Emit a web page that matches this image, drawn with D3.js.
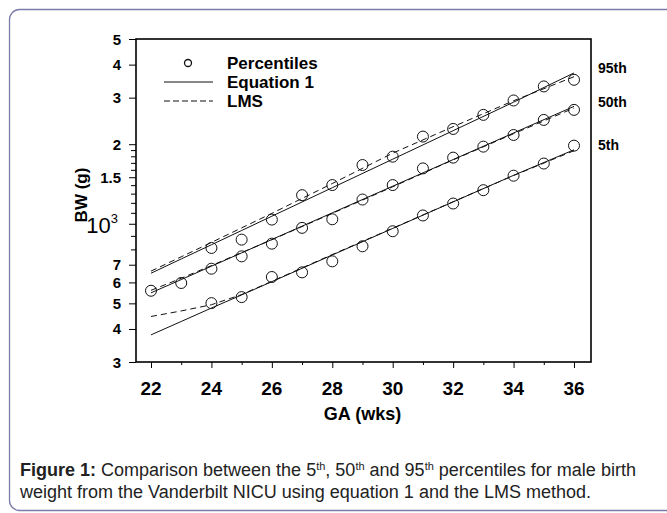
<!DOCTYPE html>
<html>
<head>
<meta charset="utf-8">
<script src="https://cdn.jsdelivr.net/npm/d3@7"></script>
<style>
    body { margin: 0; background: #fff; }
    svg text { font-family: "Liberation Sans", Arial, sans-serif; }
</style>
</head>
<body>
<div id="graphe"></div>
<script>
// percentiles (g), null = no circle drawn
var weeks = [22, 23, 24, 25, 26, 27, 28, 29, 30, 31, 32, 33, 34, 35, 36];
var p5 = [null, null, 501, 528, 629, 655, 721, 822, 937, 1075, 1193, 1340, 1520, 1690, 1975];
var p50 = [558, 597, 676, 753, 841, 965, 1040, 1235, 1401, 1620, 1779, 1958, 2167, 2471, 2697];
var p95 = [null, null, 810, 871, 1037, 1283, 1401, 1668, 1794, 2137, 2284, 2582, 2927, 3308, 3505];

// fitted curves (equation 1 = solid, LMS = dashed)
var lineWeeks = [22, 23, 24, 25, 26, 28, 30, 32, 34, 36];
var eq95 = [650, 736, 833, 943, 1068, 1369, 1755, 2250, 2884, 3720];
var lms95 = [662, 750, 850, 965, 1095, 1420, 1850, 2330, 2920, 3600];
var eq50 = [548, 615, 691, 776, 872, 1100, 1387, 1749, 2205, 2780];
var lms50 = [560, 622, 695, 778, 870, 1095, 1380, 1745, 2190, 2740];
var eq5 = [380, 427, 480, 538, 604, 762, 960, 1210, 1525, 1905];
var lms5 = [446, 468, 494, 540, 606, 765, 962, 1212, 1522, 1890];

var yMajor = [300, 400, 500, 600, 700, 1000, 1500, 2000, 3000, 4000, 5000];
var yLabels = ["3", "4", "5", "6", "7", "10", "1.5", "2", "3", "4", "5"];
var yMinor = [800, 900, 1100, 1200, 1300, 1400, 1600, 1700, 1800, 1900];
var xLabels = [22, 24, 26, 28, 30, 32, 34, 36];
var rightLabels = ["95th", "50th", "5th"];

var W = 667, H = 513;
var plot = { left: 136, right: 591, top: 39, bottom: 362 };

var svg = d3.select("#graphe")
    .append("svg")
    .attr("width", W)
    .attr("height", H);

// card border
svg.append("rect")
    .attr("x", 9.5).attr("y", 9.5)
    .attr("width", 720).attr("height", 501)
    .attr("rx", 10)
    .attr("fill", "#fff")
    .attr("stroke", "#7d7bab")
    .attr("stroke-width", 1.3);

var x = d3.scaleLinear().domain([22, 36]).range([151, 574]);
var y = d3.scaleLog().domain([300, 5000]).range([plot.bottom, plot.top]);

// frame
svg.append("rect")
    .attr("x", plot.left).attr("y", plot.top)
    .attr("width", plot.right - plot.left)
    .attr("height", plot.bottom - plot.top)
    .attr("fill", "none")
    .attr("stroke", "#000")
    .attr("stroke-width", 1.6);

// y axis ticks
svg.append("g")
    .attr("transform", "translate(" + plot.left + ",0)")
    .call(d3.axisLeft(y).tickValues(yMajor).tickSize(7).tickFormat(""))
    .call(function (g) { g.select(".domain").remove(); });

svg.append("g")
    .attr("transform", "translate(" + plot.left + ",0)")
    .call(d3.axisLeft(y).tickValues(yMinor).tickSize(5).tickFormat(""))
    .call(function (g) { g.select(".domain").remove(); });

svg.selectAll("ylab")
    .data(yMajor)
    .enter()
    .append("text")
    .attr("x", 121)
    .attr("y", function (d) { return y(d) + 5.5; })
    .attr("text-anchor", "end")
    .style("font-size", "15px")
    .style("font-weight", "bold")
    .each(function (d, i) {
        let t = d3.select(this);
        if (d == 1000) {
            t.style("font-weight", "normal").style("font-size", "22px").attr("y", y(d) + 9).attr("x", 118);
            t.append("tspan").text("10");
            t.append("tspan").attr("dy", -10).style("font-size", "13px").text("3");
        } else {
            t.text(yLabels[i]);
        }
    });

// x axis ticks: every week, labels every 2
svg.append("g")
    .attr("transform", "translate(0," + plot.bottom + ")")
    .call(d3.axisBottom(x).tickValues(weeks).tickSizeInner(0).tickSizeOuter(0).tickFormat(""))
    .call(function (g) { g.select(".domain").remove(); })
    .selectAll("line")
    .attr("y2", function (d) { return d % 2 == 0 ? 6 : 3; });

svg.selectAll("xlab")
    .data(xLabels)
    .enter()
    .append("text")
    .attr("x", function (d) { return x(d); })
    .attr("y", 395)
    .attr("text-anchor", "middle")
    .style("font-size", "19px")
    .style("font-weight", "bold")
    .text(function (d) { return d; });

// axis titles
svg.append("text")
    .attr("x", x(29))
    .attr("y", 420)
    .attr("text-anchor", "middle")
    .style("font-size", "18px")
    .style("font-weight", "bold")
    .text("GA (wks)");

svg.append("text")
    .attr("transform", "translate(87,195) rotate(-90)")
    .attr("text-anchor", "middle")
    .style("font-size", "17px")
    .style("font-weight", "bold")
    .text("BW (g)");

// curves
var line = d3.line()
    .x(function (d, i) { return x(lineWeeks[i]); })
    .y(function (d) { return y(d); });

var curves = [
    { v: eq95, dash: null }, { v: eq50, dash: null }, { v: eq5, dash: null },
    { v: lms95, dash: "6,4" }, { v: lms50, dash: "6,4" }, { v: lms5, dash: "6,4" }
];
svg.selectAll("curves")
    .data(curves)
    .enter()
    .append("path")
    .attr("d", function (d) { return line(d.v); })
    .attr("fill", "none")
    .attr("stroke", "#111")
    .attr("stroke-width", 1)
    .attr("stroke-dasharray", function (d) { return d.dash; });

// percentile circles
[p5, p50, p95].forEach(function (serie) {
    svg.append("g")
        .selectAll("circle")
        .data(serie.map(function (v, i) { return { w: weeks[i], v: v }; })
            .filter(function (d) { return d.v != null; }))
        .enter()
        .append("circle")
        .attr("cx", function (d) { return x(d.w); })
        .attr("cy", function (d) { return y(d.v); })
        .attr("r", 5.5)
        .attr("fill", "none")
        .attr("stroke", "#111")
        .attr("stroke-width", 1);
});

// labels on the right
svg.selectAll("rlab")
    .data(rightLabels)
    .enter()
    .append("text")
    .attr("x", 598)
    .attr("y", function (d, i) { return [73, 107, 150][i]; })
    .style("font-size", "14px")
    .style("font-weight", "bold")
    .text(function (d) { return d; });

// legend
var leg = svg.append("g");
leg.append("circle").attr("cx", 188).attr("cy", 63).attr("r", 3.5)
    .attr("fill", "none").attr("stroke", "#111").attr("stroke-width", 1.3);
leg.append("line").attr("x1", 164).attr("x2", 213).attr("y1", 82).attr("y2", 82)
    .attr("stroke", "#111").attr("stroke-width", 1.2);
leg.append("line").attr("x1", 164).attr("x2", 213).attr("y1", 101).attr("y2", 101)
    .attr("stroke", "#111").attr("stroke-width", 1.2).attr("stroke-dasharray", "6,3");
["Percentiles", "Equation 1", "LMS"].forEach(function (s, i) {
    leg.append("text")
        .attr("x", 227)
        .attr("y", 69 + i * 19)
        .style("font-size", "17px")
        .style("font-weight", "bold")
        .text(s);
});

// caption
var cap1 = svg.append("text").attr("x", 20).attr("y", 476)
    .style("font-size", "18px").attr("fill", "#222");
cap1.append("tspan").style("font-weight", "bold").text("Figure 1:");
cap1.append("tspan").text(" Comparison between the 5");
cap1.append("tspan").attr("dy", -6).style("font-size", "11px").text("th");
cap1.append("tspan").attr("dy", 6).text(", 50");
cap1.append("tspan").attr("dy", -6).style("font-size", "11px").text("th");
cap1.append("tspan").attr("dy", 6).text(" and 95");
cap1.append("tspan").attr("dy", -6).style("font-size", "11px").text("th");
cap1.append("tspan").attr("dy", 6).text(" percentiles for male birth");

svg.append("text").attr("x", 20).attr("y", 498)
    .style("font-size", "18px").attr("fill", "#222")
    .text("weight from the Vanderbilt NICU using equation 1 and the LMS method.");
</script>
</body>
</html>
